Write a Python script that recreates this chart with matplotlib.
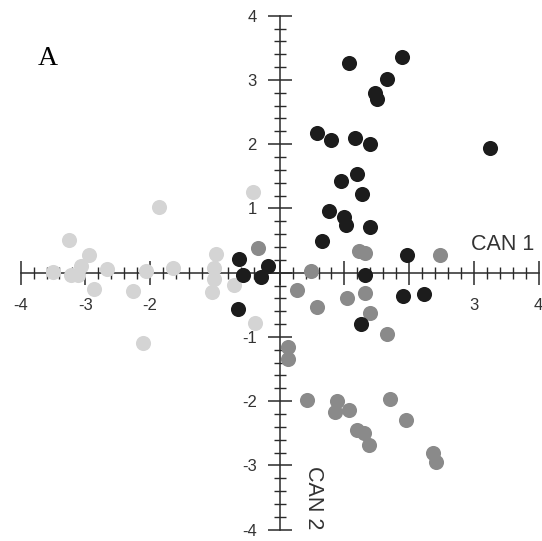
import matplotlib
matplotlib.use("Agg")
from matplotlib import pyplot as plt
from matplotlib.ticker import MultipleLocator, FixedLocator

# group 1 (black)
black_x = [1.07, 1.89, 1.66, 1.47, 1.51, 0.58, 0.79, 1.17, 1.40, 3.24, 1.20, 0.94, 1.27, 0.76,
           0.99, 1.02, 1.40, 0.66, 1.97, 1.31, 1.91, 2.23, 1.25, -0.63, -0.56, -0.29, -0.18, -0.65]
black_y = [3.27, 3.35, 3.01, 2.79, 2.71, 2.17, 2.06, 2.09, 2.01, 1.94, 1.54, 1.43, 1.22, 0.96,
           0.87, 0.74, 0.71, 0.50, 0.27, -0.03, -0.37, -0.33, -0.80, 0.21, -0.04, -0.07, 0.11, -0.57]

# group 2 (dark grey)
gray_x = [-0.33, 1.22, 1.32, 2.48, 0.49, 0.27, 0.57, 1.04, 1.32, 1.40, 1.66, 0.13, 0.13, 0.42,
          0.89, 0.86, 1.07, 1.71, 1.95, 1.19, 1.30, 1.38, 2.36, 2.41]
gray_y = [0.39, 0.33, 0.30, 0.27, 0.03, -0.27, -0.54, -0.39, -0.32, -0.63, -0.95, -1.15, -1.35, -1.98,
          -2.00, -2.17, -2.13, -1.96, -2.30, -2.45, -2.50, -2.68, -2.80, -2.94]

# group 3 (light grey)
light_x = [-0.41, -1.87, -3.26, -2.95, -3.50, -3.22, -3.11, -3.06, -2.66, -2.86, -2.27, -2.07,
           -1.64, -2.11, -0.98, -1.01, -1.01, -1.04, -0.70, -0.38]
light_y = [1.26, 1.02, 0.51, 0.27, 0.01, -0.03, -0.04, 0.11, 0.05, -0.25, -0.29, 0.02,
           0.08, -1.10, 0.29, 0.08, -0.10, -0.30, -0.19, -0.78]

ticks = [-4, -3, -2, -1, 0, 1, 2, 3, 4]
x_labels = ['-4', '-3', '-2', '', '', '', '', '3', '4']
y_labels = ['-4', '-3', '-2', '-1', '', '1', '2', '3', '4']

plt.rcParams['font.family'] = ['Liberation Sans', 'DejaVu Sans']

fig = plt.figure(figsize=(5.42, 5.41), dpi=100)
ax = fig.add_axes([0.038, 0.021, 0.956, 0.950])

ax.scatter(light_x, light_y, s=118, color='#d4d4d4', linewidths=0, zorder=3)
ax.scatter(gray_x, gray_y, s=118, color='#8a8a8a', linewidths=0, zorder=4)
ax.scatter(black_x, black_y, s=118, color='#1c1c1c', linewidths=0, zorder=5)

ax.set_xlim(-4, 4)
ax.set_ylim(-4, 4)

# axes crossing at the origin
ax.spines['left'].set_position('zero')
ax.spines['bottom'].set_position('zero')
ax.spines['right'].set_visible(False)
ax.spines['top'].set_visible(False)
for s in ['left', 'bottom']:
    ax.spines[s].set_linewidth(1.1)
    ax.spines[s].set_color('#2a2a2a')

ax.xaxis.set_major_locator(FixedLocator(ticks))
ax.yaxis.set_major_locator(FixedLocator(ticks))
ax.xaxis.set_minor_locator(MultipleLocator(0.2))
ax.yaxis.set_minor_locator(MultipleLocator(0.2))
ax.set_xticklabels(x_labels)
ax.set_yticklabels(y_labels)

ax.tick_params(axis='both', which='major', direction='inout', length=17, width=1.1,
               color='#2a2a2a', labelsize=12, labelcolor='#333333')
ax.tick_params(axis='both', which='minor', direction='inout', length=8.5, width=1.0,
               color='#2a2a2a')
ax.tick_params(axis='x', which='major', pad=10)
ax.tick_params(axis='y', which='major', pad=8)

ax.text(2.95, 0.35, 'CAN 1', fontsize=15.5, color='#333333', ha='left', va='baseline')
ax.text(0.52, -3.5, 'CAN 2', fontsize=15.5, color='#333333', rotation=270,
        ha='center', va='center')
ax.text(-3.74, 3.23, 'A', fontsize=20, family='Liberation Serif', color='black',
        ha='left', va='baseline')

fig.savefig('out.png', dpi=100)
